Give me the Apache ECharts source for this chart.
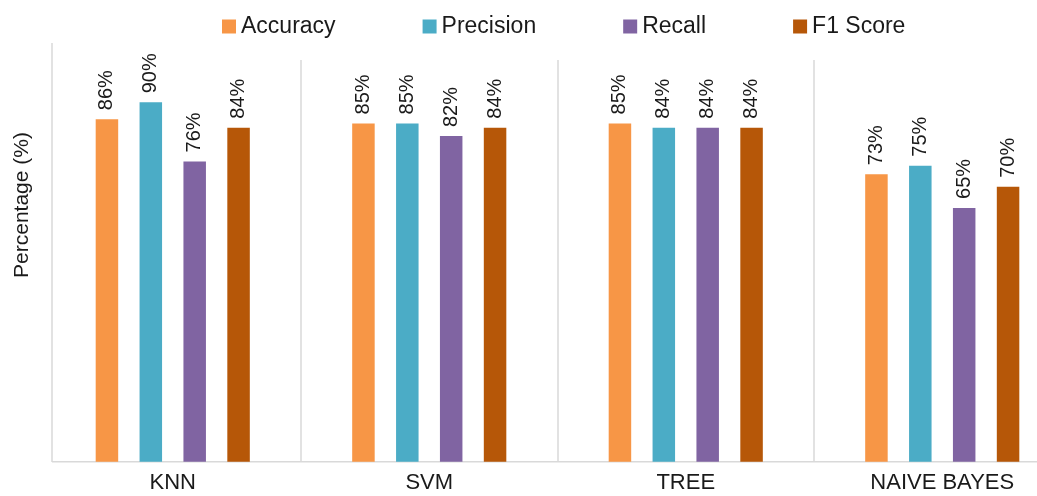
<!DOCTYPE html>
<html>
<head>
<meta charset="utf-8">
<script src="https://cdn.jsdelivr.net/npm/echarts@6/dist/echarts.min.js"></script>
<style>
html,body{margin:0;padding:0;background:#fff;}
#chart{width:1037px;height:496px;}
</style>
</head>
<body>
<div id="chart"></div>
<script>
var categories = ['KNN', 'SVM', 'TREE', 'NAIVE BAYES'];
var seriesNames = ['Accuracy', 'Precision', 'Recall', 'F1 Score'];
var accuracy = [86, 85, 85, 73];
var precision = [90, 85, 84, 75];
var recall = [76, 82, 84, 65];
var f1Score = [84, 84, 84, 70];
var yAxisTitle = 'Percentage (%)';

var colors = ['#F79646', '#4BACC6', '#8064A2', '#B65708'];
var font = '"Liberation Sans", Arial, sans-serif';
var values = [accuracy, precision, recall, f1Score];

var chart = echarts.init(document.getElementById('chart'));
chart.setOption({
  animation: false,
  color: colors,
  textStyle: { fontFamily: font },
  legend: {
    left: 217,
    top: 10,
    itemWidth: 14,
    itemHeight: 14,
    itemGap: 87,
    icon: 'rect',
    textStyle: { fontSize: 23, color: '#1a1a1a', fontFamily: font },
    data: seriesNames
  },
  grid: { left: 44.5, width: 1026, top: 60, bottom: 34.3, containLabel: false, outerBoundsMode: 'none' },
  xAxis: {
    type: 'category',
    data: categories,
    boundaryGap: true,
    axisLine: { show: false },
    axisTick: { show: false },
    axisLabel: { fontSize: 22, color: '#1a1a1a', margin: 10, fontFamily: font },
    splitLine: {
      show: true,
      interval: function (idx) { return idx !== 0; },
      lineStyle: { color: '#d9d9d9', width: 1.5 }
    }
  },
  yAxis: {
    type: 'value',
    min: 5,
    max: 100,
    axisLine: { show: false },
    axisTick: { show: false },
    axisLabel: { show: false },
    splitLine: { show: false }
  },
  graphic: [
    {
      type: 'line',
      shape: { x1: 52, y1: 43, x2: 52, y2: 462 },
      style: { stroke: '#d9d9d9', lineWidth: 1.5 },
      z: 0
    },
    {
      type: 'line',
      shape: { x1: 52, y1: 461.7, x2: 1037, y2: 461.7 },
      style: { stroke: '#d9d9d9', lineWidth: 1.5 },
      z: 0
    },
    {
      type: 'text',
      x: 22,
      y: 205,
      rotation: Math.PI / 2,
      style: {
        text: yAxisTitle,
        font: '21px ' + font,
        fill: '#1a1a1a',
        align: 'center',
        verticalAlign: 'middle'
      }
    }
  ],
  series: seriesNames.map(function (name, i) {
    return {
      name: name,
      type: 'bar',
      data: values[i],
      barWidth: 22.5,
      barGap: '95%',
      itemStyle: { color: colors[i] },
      label: {
        show: true,
        position: 'top',
        rotate: 90,
        align: 'left',
        verticalAlign: 'middle',
        distance: 9,
        fontSize: 20,
        color: '#1a1a1a',
        fontFamily: font,
        formatter: '{c}%'
      }
    };
  })
});
</script>
</body>
</html>
